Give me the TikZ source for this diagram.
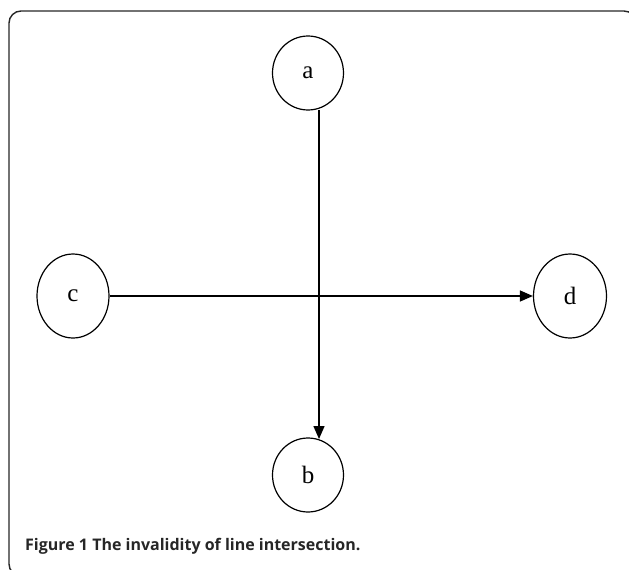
\documentclass[tikz,border=0pt]{standalone}
\usepackage{fontspec}
\setmainfont{Liberation Serif}
\newfontfamily\capfont{Open Sans}
\usetikzlibrary{shapes.geometric,arrows.meta}
\begin{document}
\begin{tikzpicture}[x=1pt,y=-1pt,
  vert/.style={ellipse,draw,line width=1.2pt,minimum width=71pt,minimum height=74pt,inner sep=0pt,font=\fontsize{25}{25}\selectfont},
  edge/.style={line width=1.4pt,-{Triangle[length=13pt,width=11pt]}},
  frame/.style={line width=1.4pt,draw=black!85,rounded corners=12pt}]
\useasboundingbox (0,0) rectangle (629,570);
\begin{scope}
\clip (0,0) rectangle (629,570);
\draw[frame] (9,11) rectangle (636,576);
\end{scope}
\node[vert] (a) at (308,73) {a};
\node[vert,minimum height=84pt,minimum width=72pt] (c) at (73,296) {c};
\node[vert,minimum height=84pt,minimum width=73pt] (d) at (570,296) {d};
\node[vert] (b) at (308,475) {b};
\coordinate (atop) at (319,110);
\coordinate (bend) at (319,439);
\draw[edge] (c.east) -- (d.west);
\draw[edge] (atop) -- (bend);
\node[anchor=base west,font=\capfont\bfseries\fontsize{16}{19}\selectfont,text=black!85,inner sep=0pt] (cap) at (25,550) {Figure 1 The invalidity of line intersection.};
\end{tikzpicture}
\end{document}
